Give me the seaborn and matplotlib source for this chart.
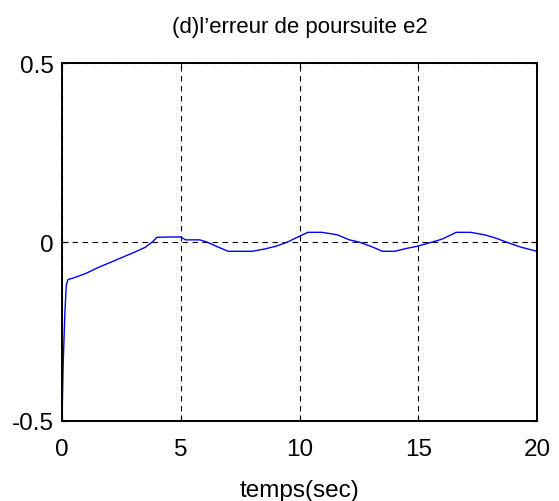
import matplotlib
matplotlib.use("Agg")
import matplotlib.pyplot as plt
import seaborn as sns
import pandas as pd
from matplotlib import font_manager

# Data
time_s = [0.0, 0.05, 0.12, 0.18, 0.25, 0.5, 1.0, 1.5, 2.0, 2.5, 3.0, 3.5, 3.8,
          4.0, 4.5, 5.0, 5.2, 5.8, 6.1, 6.5, 7.0, 7.5, 8.0, 8.5, 9.0, 9.5,
          9.9, 10.35, 10.95, 11.6, 12.1, 12.5, 13.0, 13.5, 14.0, 14.5, 14.95,
          15.6, 16.0, 16.6, 17.2, 17.8, 18.3, 18.7, 19.3, 20.0]
e2 = [-0.5, -0.34, -0.2, -0.12, -0.105, -0.1, -0.088, -0.072, -0.058, -0.044,
      -0.03, -0.015, 0.0, 0.013, 0.014, 0.014, 0.006, 0.006, 0.0, -0.012,
      -0.026, -0.026, -0.026, -0.02, -0.012, 0.0, 0.013, 0.027, 0.027, 0.02,
      0.006, 0.0, -0.012, -0.026, -0.026, -0.018, -0.012, 0.0, 0.008, 0.027,
      0.027, 0.02, 0.01, 0.0, -0.014, -0.026]
x_ticks = [0, 5, 10, 15, 20]
y_ticks = [-0.5, 0, 0.5]
y_tick_labels = ["-0.5", "0", "0.5"]
title = "(d)l\u2019erreur de poursuite e2"
xlabel = "temps(sec)"

sns.set_style("white")
names = {f.name for f in font_manager.fontManager.ttflist}
fam = "Liberation Sans Narrow" if "Liberation Sans Narrow" in names else "Liberation Sans"
plt.rcParams["font.family"] = [fam, "DejaVu Sans"]
plt.rcParams["text.color"] = "black"
plt.rcParams["axes.labelcolor"] = "black"

df = pd.DataFrame({"t": time_s, "e2": e2})

fig = plt.figure(figsize=(5.59, 5.02), dpi=100)
ax = fig.add_axes([62 / 559, 80 / 502, 475 / 559, 358 / 502])
sns.lineplot(data=df, x="t", y="e2", ax=ax, color="#0000ff", linewidth=1.0,
             sort=False, estimator=None)

ax.set_xlim(0, 20)
ax.set_ylim(-0.5, 0.5)
ax.set_xticks(x_ticks)
ax.set_xticklabels([str(v) for v in x_ticks])
ax.set_yticks(y_ticks)
ax.set_yticklabels(y_tick_labels)
ax.tick_params(direction="in", length=4, width=0.8, labelsize=17.5, colors="black",
               top=True, right=True, bottom=True, left=True)
ax.tick_params(axis="x", pad=12)
ax.tick_params(axis="y", pad=6)
ax.grid(True, color="black", linestyle=(0, (5, 4)), linewidth=0.8)
for s in ax.spines.values():
    s.set_color("black")
    s.set_linewidth(1.4)
    s.set_visible(True)
ax.set_xlabel(xlabel, fontsize=17.5, labelpad=14, color="black")
ax.set_ylabel("")
ax.set_title(title, fontsize=16, pad=22, color="black")

fig.savefig("out.png", dpi=100)
